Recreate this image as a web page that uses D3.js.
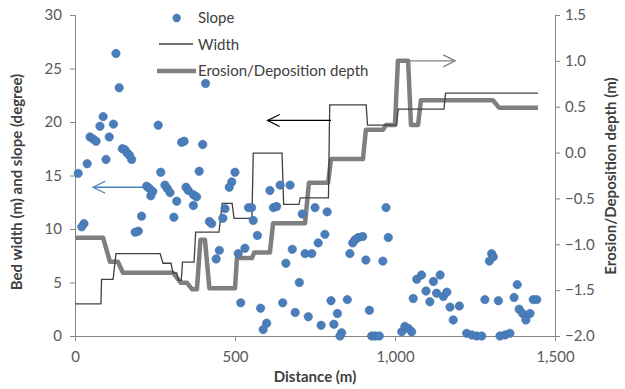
<!DOCTYPE html>
<html><head><meta charset="utf-8">
<script src="https://cdn.jsdelivr.net/npm/d3@7"></script>
<style>
body{margin:0;background:#fff;}
svg{display:block;font-family:Lato,"Open Sans",sans-serif;}
</style></head>
<body><svg id="c" width="625" height="389"></svg>
<script>
// ---- data ----
const slopeDist = [128,138,408,88,78,120,260,47,57,66,107,333,341,399,148,156,163,170,177,97,38,10,268,388,500,490,482,224,232,243,237,281,288,297,347,354,370,380,318,370,469,542,552,208,309,462,557,28,21,420,427,198,188,570,451,531,510,441,518,580,599,588,609,641,672,620,630,750,788,710,972,781,760,868,875,885,899,979,679,719,740,859,909,962,659,701,1068,1083,1141,1120,1097,1130,1151,1162,1057,1109,1172,649,800,851,688,729,920,820,1182,769,809,833,828,927,938,951,1021,1031,1042,1052,1302,1307,1295,1382,1201,1281,1323,1372,1388,1399,1409,1422,1432,1443,1224,1240,1255,1271,1328,1344,1359];
const slopeVal = [26.4,23.2,23.6,20.5,19.6,19.8,19.7,18.6,18.4,18.2,18.6,18.1,18.2,17.9,17.5,17.4,17.1,16.9,16.5,16.5,16.1,15.2,15.3,15.4,15.3,14.4,13.9,14.0,13.8,13.5,13.1,14.1,13.8,13.4,13.9,13.6,13.2,13.0,12.6,12.2,11.9,12.0,12.0,11.2,11.1,11.0,10.8,10.5,10.2,10.7,10.5,9.8,9.7,9.4,8.0,8.2,7.7,7.2,3.1,2.6,1.2,0.6,13.6,14.1,14.1,12.0,12.1,12.0,11.6,11.4,12.0,9.5,8.7,8.7,9.0,9.2,9.3,9.2,8.1,7.7,7.7,7.7,7.1,7.0,6.8,5.0,5.3,5.7,5.7,5.1,4.2,4.0,3.7,4.1,3.5,3.2,2.7,3.1,3.3,3.4,2.2,1.8,2.4,2.1,1.5,1.0,1.1,0.3,0.0,0,0,0,0.4,0.9,0.7,0.4,7.7,7.4,7.0,4.8,2.8,3.4,3.3,3.6,2.5,2.1,1.5,2.1,3.4,3.4,0.25,0.1,0,0,0,0.1,0.25];

const widthDist = [0,81,83,119,128,266,275,300,306,318,323,332,336,372,377,450,460,491,497,553,557,647,652,700,704,792,796,910,914,1005,1010,1153,1158,1447];
const widthVal  = [3.0,3.0,5.3,5.3,7.7,7.7,6.8,6.8,5.9,5.9,5.2,5.2,6.9,6.9,9.7,9.7,12.4,12.4,11.0,11.0,17.1,17.1,12.3,12.3,12.9,12.9,21.6,21.6,19.7,19.7,21.2,21.2,22.7,22.7];

const erosionDist = [0,88,109,134,150,306,331,350,366,381,392,406,420,500,506,553,560,609,619,719,731,791,800,900,909,963,972,1000,1009,1041,1050,1072,1081,1306,1325,1447];
const erosionVal  = [-0.93,-0.93,-1.19,-1.19,-1.31,-1.31,-1.42,-1.42,-1.49,-1.49,-0.95,-0.95,-1.48,-1.48,-1.15,-1.15,-1.09,-1.09,-0.77,-0.77,-0.33,-0.33,-0.07,-0.07,0.25,0.25,0.30,0.30,1.0,1.0,0.3,0.3,0.57,0.57,0.49,0.49];

const xTicks = [0,500,1000,1500];
const yLeftTicks = [0,5,10,15,20,25,30];
const yRightTicks = [-2.0,-1.5,-1.0,-0.5,0.0,0.5,1.0,1.5];
const legendLabels = ["Slope","Width","Erosion/Deposition depth"];
const xTitle = "Distance (m)";
const yLeftTitle = "Bed width (m) and slope (degree)";
const yRightTitle = "Erosion/Deposition depth (m)";

// ---- layout ----
const L=75, R=555, T=15, B=336;
const svg = d3.select("#c");
const x = d3.scaleLinear().domain([0,1500]).range([L,R]);
const yL = d3.scaleLinear().domain([0,30]).range([B,T]);
const yR = d3.scaleLinear().domain([-2,1.5]).range([B,T]);

const axisCol="#868686", tickTxt="#595959", titleCol="#404040";
const fmtX = d3.format(",");

// axes
const ax = svg.append("g").attr("transform",`translate(0,${B})`)
  .call(d3.axisBottom(x).tickValues(xTicks).tickSize(5).tickFormat(fmtX));
const al = svg.append("g").attr("transform",`translate(${L},0)`)
  .call(d3.axisLeft(yL).tickValues(yLeftTicks).tickSize(5).tickFormat(d3.format("d")));
const ar = svg.append("g").attr("transform",`translate(${R},0)`)
  .call(d3.axisRight(yR).tickValues(yRightTicks).tickSize(5).tickFormat(d3.format(".1f")));
[ax,al,ar].forEach(g=>{
  g.select(".domain").attr("stroke",axisCol).attr("stroke-width",1);
  g.selectAll(".tick line").attr("stroke",axisCol);
  g.selectAll(".tick text").attr("fill",tickTxt).style("font-size","15px").style("font-family","Lato,sans-serif");
});
ax.selectAll(".tick text").attr("dy","1.2em");
al.selectAll(".tick text").attr("x",-13);
ar.selectAll(".tick text").attr("x",10);

// lines
const thick = d3.line().x((d,i)=>x(erosionDist[i])).y((d,i)=>yR(erosionVal[i]));
svg.append("path").datum(erosionVal).attr("d",thick)
  .attr("fill","none").attr("stroke","#7f7f7f").attr("stroke-width",4.5).attr("stroke-linejoin","round");
const thin = d3.line().x((d,i)=>x(widthDist[i])).y((d,i)=>yL(widthVal[i]));
svg.append("path").datum(widthVal).attr("d",thin)
  .attr("fill","none").attr("stroke","#404040").attr("stroke-width",1.3);

// points
svg.append("g").selectAll("circle").data(slopeVal).join("circle")
  .attr("cx",(d,i)=>x(slopeDist[i])).attr("cy",d=>yL(d)).attr("r",4.2)
  .attr("fill","#4a7ebb").attr("stroke","#3f6fa8").attr("stroke-width",0.6);

// arrows (pointing at their axes)
function arrow(x1,x2,y,col,dir){
  const g=svg.append("g").attr("stroke",col).attr("fill","none").attr("stroke-width",1.3);
  g.append("line").attr("x1",x1).attr("x2",x2).attr("y1",y).attr("y2",y);
  const hx = dir<0?x1:x2, s=dir<0?1:-1;
  g.append("path").attr("d",`M${hx+s*12},${y-6}L${hx},${y}L${hx+s*12},${y+6}`);
}
arrow(x(57),x(225),yL(13.9),"#4a7ebb",-1);
arrow(x(602),x(800),yR(0.35),"#000000",-1);
arrow(x(1034),x(1188),yR(1.0),"#808080",1);

// legend
const lg = svg.append("g");
lg.append("circle").attr("cx",176.7).attr("cy",18).attr("r",4.2).attr("fill","#4a7ebb");
lg.append("line").attr("x1",159).attr("x2",193).attr("y1",44).attr("y2",44).attr("stroke","#404040").attr("stroke-width",1.3);
lg.append("line").attr("x1",157).attr("x2",196).attr("y1",71).attr("y2",71).attr("stroke","#7f7f7f").attr("stroke-width",4.5);
lg.selectAll("text").data(legendLabels).join("text")
  .attr("x",198).attr("y",(d,i)=>18+i*26.5).attr("dy","0.35em")
  .attr("fill",titleCol).style("font-size","15px").text(d=>d);

// titles
svg.append("text").attr("x",315).attr("y",382).attr("text-anchor","middle")
  .attr("fill",titleCol).style("font-size","15px").style("font-weight","bold").text(xTitle);
svg.append("text").attr("transform","translate(22,182) rotate(-90)").attr("text-anchor","middle")
  .attr("fill",titleCol).style("font-size","15px").style("font-weight","bold").text(yLeftTitle);
svg.append("text").attr("transform","translate(616,176) rotate(-90)").attr("text-anchor","middle")
  .attr("fill",titleCol).style("font-size","15px").style("font-weight","bold").text(yRightTitle);
</script></body></html>
